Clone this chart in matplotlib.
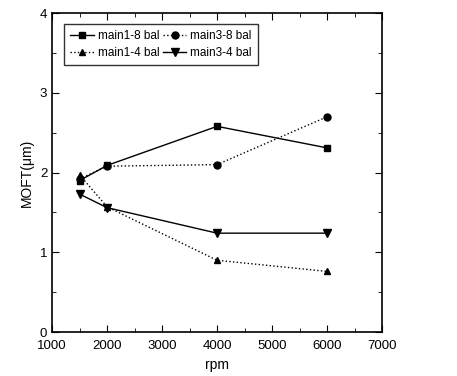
import matplotlib
matplotlib.use("Agg")
import matplotlib.pyplot as plt
from matplotlib.ticker import MultipleLocator

plt.rcParams['font.family'] = ['Liberation Sans', 'DejaVu Sans']

rpm = [1500, 2000, 4000, 6000]
main1_8 = [1.90, 2.09, 2.58, 2.31]
main3_8 = [1.92, 2.08, 2.10, 2.70]
main1_4 = [1.97, 1.57, 0.90, 0.76]
main3_4 = [1.73, 1.56, 1.24, 1.24]

fig = plt.figure(figsize=(4.57, 3.76), dpi=100)
ax = fig.add_axes([0.114, 0.117, 0.722, 0.848])

l1, = ax.plot(rpm, main1_8, '-', color='black', lw=1.0, marker='s', ms=5, label='main1-8 bal')
l2, = ax.plot(rpm, main3_8, ':', color='black', lw=1.0, marker='o', ms=5, label='main3-8 bal')
l3, = ax.plot(rpm, main1_4, ':', color='black', lw=1.0, marker='^', ms=5, label='main1-4 bal')
l4, = ax.plot(rpm, main3_4, '-', color='black', lw=1.0, marker='v', ms=6, label='main3-4 bal')

ax.set_xlim(1000, 7000)
ax.set_ylim(0, 4)
ax.xaxis.set_major_locator(MultipleLocator(1000))
ax.xaxis.set_minor_locator(MultipleLocator(500))
ax.yaxis.set_major_locator(MultipleLocator(1))
ax.yaxis.set_minor_locator(MultipleLocator(0.5))
ax.tick_params(which='both', direction='in', top=True, right=True, labelsize=9.5)
ax.tick_params(which='major', length=5)
ax.tick_params(which='minor', length=3)
ax.tick_params(axis='x', pad=6)
for s in ax.spines.values():
    s.set_linewidth(1.2)

ax.set_xlabel('rpm', fontsize=10)
ax.set_ylabel('MOFT(\u03bcm)', fontsize=10)

leg = ax.legend([l1, l3, l2, l4], [l1.get_label(), l3.get_label(), l2.get_label(), l4.get_label()],
                ncol=2, loc='upper left', bbox_to_anchor=(0.036, 0.967), borderaxespad=0,
                fontsize=8.5, frameon=True, fancybox=False, edgecolor='black', handlelength=2.0,
                columnspacing=0.3, handletextpad=0.3, borderpad=0.55, labelspacing=0.4)
leg.get_frame().set_linewidth(1.0)

fig.savefig('out.png', dpi=100)
